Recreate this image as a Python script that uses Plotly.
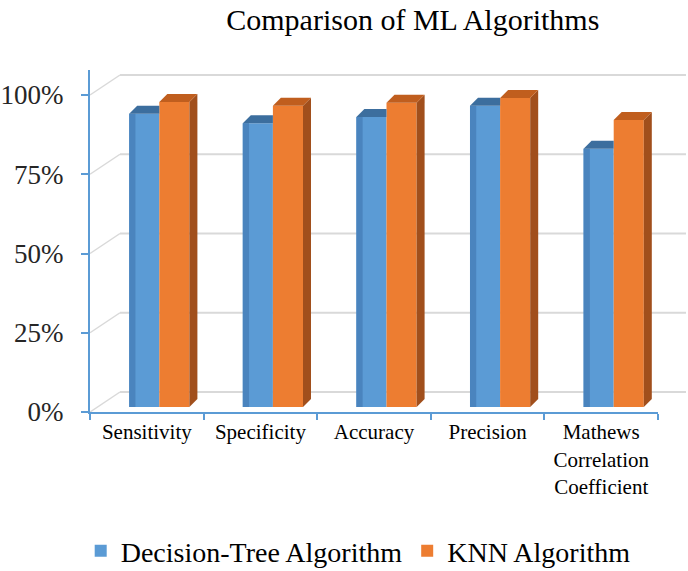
import plotly.graph_objects as go

categories = ["Sensitivity", "Specificity", "Accuracy", "Precision",
              "Mathews<br>Correlation<br>Coefficient"]
dt_values = [0.925, 0.895, 0.915, 0.95, 0.815]
knn_values = [0.962, 0.95, 0.96, 0.975, 0.905]
series_names = ["Decision-Tree Algorithm", "KNN Algorithm"]
y_ticks = [0, 0.25, 0.5, 0.75, 1.0]
y_ticktext = ["0%", "25%", "50%", "75%", "100%"]

# style / geometry
FONT = "'Liberation Serif', 'Times New Roman', Tinos, 'DejaVu Serif', serif"
W, H = 688, 571
ML, MR, MT, MB = 90, 2, 70, 159
plot_w = W - ML - MR
plot_h = H - MT - MB
x_dom_end = 568 / plot_w            # front axis length in px
px_per_unit_x = 568 / 5
px_per_unit_y = 317
y_top = plot_h / px_per_unit_y
back_dx_px, back_dy_px = 30, 20
bar_lift = 5 / px_per_unit_y
depth_dx = 8 / px_per_unit_x
depth_dy = 8 / px_per_unit_y
bar_w = 0.265
edge_w = 0.055
group_shift = 0.11

front_cols = ["#5B9BD5", "#ED7D31"]
edge_col = "#4A84BE"
side_cols = ["#3F76A8", "#A14F1C"]
top_cols = ["#3C6E9E", "#C05E1E"]

centers = [i + 0.5 for i in range(len(categories))]
fig = go.Figure()

series = [dt_values, knn_values]
for s, vals in enumerate(series):
    offs = group_shift - bar_w if s == 0 else group_shift
    for i, v in enumerate(vals):
        x0 = centers[i] + offs
        x1 = x0 + bar_w
        if s == 1:
            fig.add_trace(go.Scatter(
                x=[x1, x1 + depth_dx, x1 + depth_dx, x1, x1],
                y=[0, depth_dy, v + depth_dy, v, 0],
                fill="toself", fillcolor=side_cols[s], mode="lines",
                line=dict(width=0), hoverinfo="skip", showlegend=False,
                yaxis="y3"))
            xr = x1 + depth_dx
        else:
            xr = x1
        fig.add_trace(go.Scatter(
            x=[x0, x0 + depth_dx, xr, x1, x0],
            y=[v, v + depth_dy, v + depth_dy, v, v],
            fill="toself", fillcolor=top_cols[s], mode="lines",
            line=dict(width=0), hoverinfo="skip", showlegend=False,
            yaxis="y3"))
    fig.add_trace(go.Bar(
        x=centers, y=vals, width=bar_w, offset=offs,
        marker=dict(color=front_cols[s], line=dict(width=0)),
        name=series_names[s], yaxis="y3"))
    if s == 0:
        # darker shading strip at the left edge of the blue bars
        fig.add_trace(go.Bar(
            x=centers, y=vals, width=edge_w, offset=offs,
            marker=dict(color=edge_col, line=dict(width=0)),
            showlegend=False, hoverinfo="skip", yaxis="y3"))

# back wall gridlines and diagonals
shift = back_dy_px / px_per_unit_y
x_back = back_dx_px / plot_w
for t in y_ticks:
    fig.add_shape(type="line", xref="paper", yref="y",
                  x0=x_back, x1=1.0, y0=t + shift, y1=t + shift,
                  line=dict(color="#D9D9D9", width=2), layer="below")
    fig.add_shape(type="line", xref="paper", yref="y",
                  x0=0, x1=x_back, y0=t, y1=t + shift,
                  line=dict(color="#D9D9D9", width=1.5), layer="below")

fig.update_layout(
    width=W, height=H,
    margin=dict(l=ML, r=MR, t=MT, b=MB, autoexpand=False),
    paper_bgcolor="white", plot_bgcolor="white",
    barmode="overlay",
    title=dict(text="Comparison of ML Algorithms", x=0.6, xref="container",
               y=1 - 19 / H, yref="container", xanchor="center", yanchor="middle",
               font=dict(family=FONT, size=30, color="#000000")),
    xaxis=dict(domain=[0, x_dom_end], range=[0, 5], tickvals=centers,
               ticktext=categories, ticks="", showgrid=False, zeroline=False,
               showline=True, linecolor="#5B9BD5", linewidth=2, automargin=False,
               tickfont=dict(family=FONT, size=21, color="#000000"),
               minor=dict(tickvals=list(range(6)), ticks="outside", ticklen=6,
                          tickcolor="#5B9BD5", tickwidth=2, showgrid=False)),
    yaxis=dict(range=[0, y_top], tickvals=y_ticks, ticktext=y_ticktext,
               ticks="outside", ticklen=7, tickcolor="#5B9BD5", tickwidth=2,
               showline=True, linecolor="#5B9BD5", linewidth=2, automargin=False,
               showgrid=False, zeroline=False, ticklabelstandoff=12,
               tickfont=dict(family=FONT, size=27, color="#262626")),
    yaxis3=dict(overlaying="y", range=[-bar_lift, y_top - bar_lift],
                visible=False),
    legend=dict(orientation="h", x=0.45, xanchor="center", xref="paper",
                y=-(551 - 412) / plot_h, yanchor="middle",
                font=dict(family=FONT, size=28, color="#000000"),
                itemwidth=30, traceorder="normal"),
    showlegend=True,
)

fig.write_html("out.html", config={"displayModeBar": False},
               post_script="document.body.style.margin='0';document.body.style.overflow='hidden';")
